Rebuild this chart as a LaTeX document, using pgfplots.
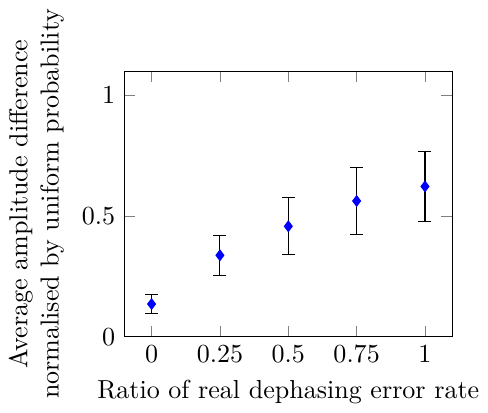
\documentclass[border=0pt]{standalone}
\usepackage{pgfplots}
\pgfplotsset{compat=1.18}
\begin{document}
\begin{tikzpicture}
\begin{axis}[
    scale only axis,
    width=126pt, height=102pt,
    xmin=-0.1, xmax=1.1,
    ymin=0, ymax=1.1,
    xtick={0,0.25,0.5,0.75,1},
    ytick={0,0.5,1},
    xlabel={Ratio of real dephasing error rate},
    ylabel={Average amplitude difference\\normalised by uniform probability},
    ylabel style={align=center},
]
\addplot[
    only marks,
    mark=diamond*,
    color=blue,
    error bars/.cd,
    y dir=both, y explicit,
    error bar style={black},
    error mark options={black, rotate=90, mark size=2.5pt},
] coordinates {
    (0,0.135) +- (0,0.041)
    (0.25,0.337) +- (0,0.083)
    (0.5,0.457) +- (0,0.118)
    (0.75,0.562) +- (0,0.138)
    (1,0.622) +- (0,0.144)
};
\end{axis}
\end{tikzpicture}
\end{document}
